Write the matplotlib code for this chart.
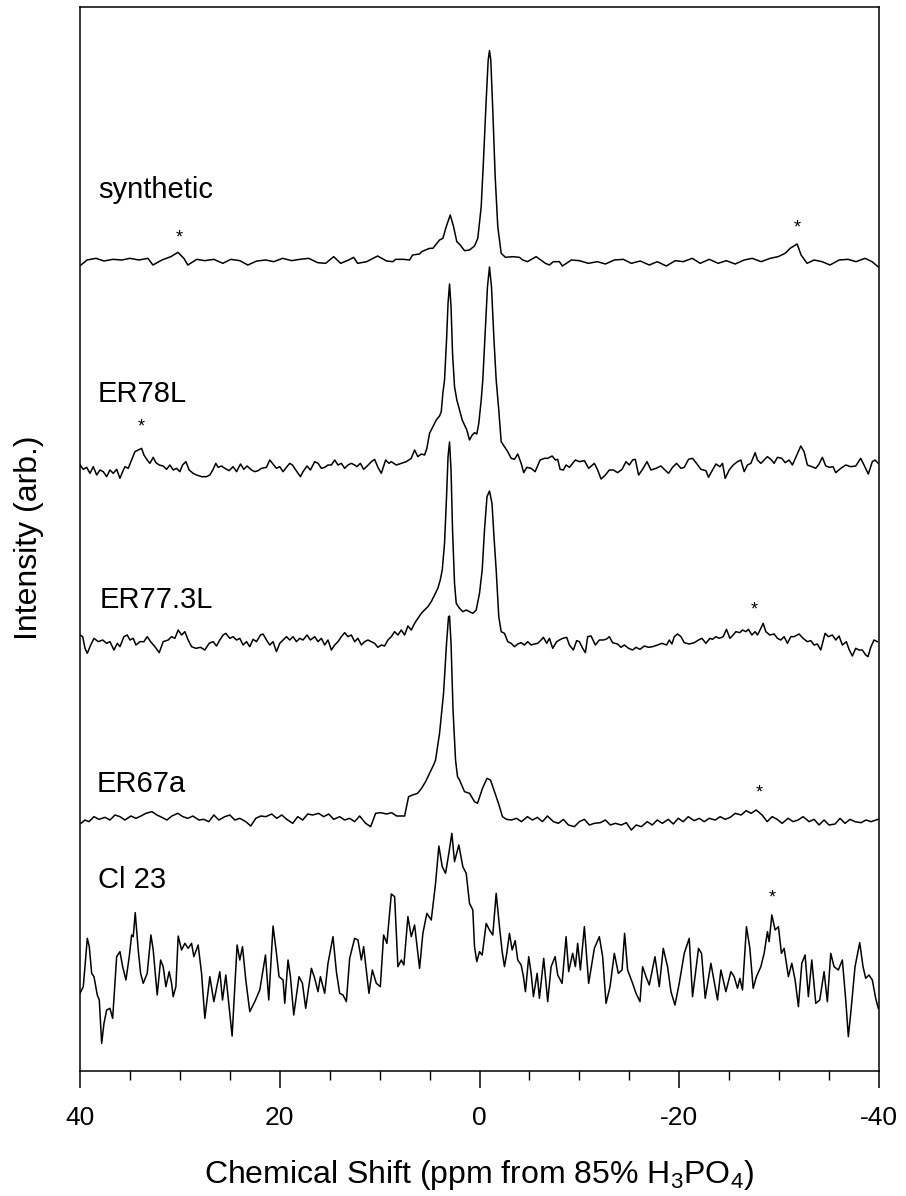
import matplotlib
matplotlib.use("Agg")
import matplotlib.pyplot as plt
from matplotlib.ticker import MultipleLocator

plt.rcParams['font.family'] = ['Liberation Sans', 'DejaVu Sans']
plt.rcParams['mathtext.fontset'] = 'custom'
plt.rcParams['mathtext.rm'] = 'Liberation Sans'
plt.rcParams['mathtext.it'] = 'Liberation Sans:italic'

# ---------------- data (ppm, intensity in arb. units) ----------------
names = ["synthetic", "ER78L", "ER77.3L", "ER67a", "Cl 23"]

syn_ppm = [39.9, 39.3, 38.4, 37.6, 36.7, 35.8, 35.0, 34.1, 33.2, 32.7, 31.8, 30.9, 30.2, 29.6, 29.2, 28.3,
           27.5, 26.6, 25.7, 24.9, 24.0, 23.2, 22.3, 21.4, 20.6, 19.7, 18.8, 18.0, 17.1, 16.2, 15.4, 14.6,
           13.9, 13.1, 12.6, 12.2, 11.3, 10.2, 9.3, 8.67, 8.4, 7.6, 7.0, 6.7, 6.0, 5.8, 5.0, 4.67, 4.0,
           3.67, 3.33, 2.93, 2.6, 2.27, 1.93, 1.5, 1.0, 0.5, 0.17, -0.17, -0.4, -0.67, -0.87, -1.0, -1.13,
           -1.33, -1.57, -1.83, -2.17, -2.6, -3.33, -4.0, -4.33, -4.8, -5.67, -6.6, -7.0, -7.4, -8.0, -8.3,
           -9.2, -10.0, -10.9, -11.8, -12.6, -13.5, -14.4, -15.2, -16.1, -17.0, -17.8, -18.7, -19.6, -20.4,
           -21.3, -22.1, -23.0, -23.9, -24.7, -25.6, -26.5, -27.3, -28.2, -29.1, -29.9, -30.6, -31.1, -31.8,
           -32.2, -32.8, -33.5, -34.3, -35.1, -36.0, -36.9, -37.7, -38.6, -39.3, -39.9]
syn_int = [5, 20, 25, 17, 22, 20, 25, 20, 25, 5, 20, 30, 43, 25, 5, 22,
           18, 22, 10, 22, 18, 5, 17, 20, 15, 25, 18, 22, 25, 12, 10, 30,
           10, 20, 28, 10, 15, 32, 17, 15, 22, 22, 20, 35, 38, 45, 55, 55, 80,
           85, 120, 155, 120, 75, 65, 48, 50, 62, 85, 180, 320, 500, 620, 648, 620,
           470, 270, 120, 40, 28, 30, 28, 20, 15, 30, 10, 5, 15, 15, 2,
           20, 18, 10, 15, 8, 20, 22, 10, 17, 5, 15, 2, 18, 15,
           25, 10, 22, 10, 18, 8, 20, 25, 15, 25, 30, 40, 55, 68,
           35, 10, 20, 15, 5, 20, 22, 15, 25, 15, 0]

er78_ppm = [40.0, 39.67, 39.33, 39.0, 38.67, 38.33, 38.0, 37.67, 37.33, 37.0, 36.67, 36.33, 36.0, 35.73, 35.5,
            35.17, 34.83, 34.5, 34.17, 33.83, 33.6, 33.27, 33.0, 32.67, 32.4, 32.07, 31.67, 31.33, 31.0, 30.67,
            30.33, 30.0, 29.73, 29.4, 29.07, 28.67, 28.33, 27.83, 27.33, 27.0, 26.67, 26.4, 26.17, 25.83, 25.5,
            25.07, 24.67, 24.33, 23.93, 23.6, 23.27, 22.83, 22.5, 22.17, 21.83, 21.33, 21.0, 20.73, 20.33, 20.0,
            19.67, 19.33, 19.0, 18.73, 18.4, 17.93, 17.67, 17.27, 16.93, 16.5, 16.17, 15.83, 15.5, 15.17, 14.83,
            14.5, 14.17, 13.83, 13.5, 13.17, 12.83, 12.5, 12.27, 11.93, 11.6, 11.17, 10.83, 10.5, 10.17, 9.83,
            9.4, 9.07, 8.83, 8.33, 7.83, 7.33, 6.83, 6.5, 6.17, 5.83, 5.5, 5.27, 5.0, 4.67, 4.33, 4.0, 3.83,
            3.67, 3.5, 3.3, 3.15, 3.0, 2.85, 2.7, 2.5, 2.27, 2.0, 1.73, 1.5, 1.27, 1.0, 0.73, 0.5, 0.27, 0.07,
            -0.17, -0.33, -0.55, -0.8, -1.0, -1.2, -1.45, -1.67, -1.93, -2.17, -2.5, -2.83, -3.17, -3.5, -3.83,
            -4.17, -4.43, -4.73, -5.17, -5.57, -6.07, -6.5, -6.83, -7.27, -7.6, -7.83, -8.07, -8.4, -8.67, -9.0,
            -9.6, -10.0, -10.5, -10.93, -11.5, -11.83, -12.17, -12.6, -13.0, -13.4, -13.83, -14.27, -14.67,
            -15.0, -15.33, -15.6, -15.93, -16.33, -16.77, -17.17, -17.67, -18.17, -18.5, -18.93, -19.33, -19.73,
            -20.17, -20.5, -20.93, -21.33, -21.73, -22.17, -22.67, -22.93, -23.33, -23.67, -24.07, -24.33, -24.6,
            -25.0, -25.4, -25.83, -26.17, -26.5, -26.83, -27.17, -27.6, -27.83, -28.17, -28.5, -28.83, -29.17,
            -29.5, -29.83, -30.27, -30.6, -31.0, -31.33, -31.67, -32.17, -32.5, -32.83, -33.27, -33.67, -34.0,
            -34.33, -34.67, -35.07, -35.4, -35.67, -36.17, -36.67, -37.17, -37.67, -38.17, -38.5, -38.93, -39.33,
            -39.6, -39.93]
er78_int = [45, 32, 38, 20, 40, 15, 30, 25, 10, 30, 20, 32, 5, 25, 40,
            35, 60, 85, 90, 95, 75, 60, 50, 68, 52, 45, 42, 32, 45, 30,
            35, 25, 45, 55, 30, 20, 15, 10, 10, 15, 32, 50, 38, 42, 35,
            28, 40, 25, 48, 32, 42, 30, 25, 28, 35, 38, 60, 50, 35, 40,
            25, 38, 50, 45, 30, 10, 25, 42, 30, 55, 50, 35, 38, 45, 45,
            60, 45, 50, 35, 45, 50, 45, 40, 50, 32, 44, 55, 62, 38, 20,
            60, 50, 55, 45, 50, 55, 65, 90, 70, 78, 75, 95, 140, 160, 180, 192, 205,
            260, 300, 420, 530, 588, 520, 380, 280, 240, 210, 180, 165, 150, 120, 135, 142, 138, 170,
            240, 300, 430, 580, 639, 580, 420, 300, 210, 115, 100, 85, 65, 62, 78,
            50, 22, 38, 35, 25, 60, 65, 65, 72, 60, 62, 32, 30, 45, 38,
            60, 55, 58, 35, 50, 30, 3, 15, 30, 30, 22, 32, 55,
            45, 60, 62, 15, 32, 55, 30, 35, 42, 32, 20, 38, 50,
            35, 38, 62, 65, 50, 32, 28, 8, 30, 48, 40, 50, 5,
            30, 45, 55, 60, 25, 45, 50, 82, 60, 50, 60, 70, 62,
            50, 68, 65, 52, 60, 45, 68, 102, 85, 45, 40, 35, 48,
            68, 42, 38, 40, 22, 35, 45, 40, 42, 65, 45, 18, 55,
            60, 50]

er77_ppm = [40.0, 39.73, 39.5, 39.27, 38.93, 38.6, 38.17, 37.73, 37.33, 37.0, 36.6, 36.27, 36.0, 35.6, 35.27,
            35.0, 34.67, 34.4, 34.0, 33.6, 33.27, 32.93, 32.5, 32.07, 31.67, 31.17, 30.83, 30.5, 30.17, 29.83,
            29.5, 29.17, 28.83, 28.4, 27.93, 27.5, 27.07, 26.67, 26.33, 26.0, 25.67, 25.4, 25.0, 24.67, 24.33,
            24.0, 23.67, 23.33, 23.0, 22.67, 22.33, 21.93, 21.67, 21.33, 21.0, 20.67, 20.33, 20.0, 19.67, 19.33,
            19.0, 18.67, 18.33, 18.0, 17.67, 17.27, 16.93, 16.5, 16.17, 15.83, 15.5, 15.17, 14.83, 14.5, 14.17,
            13.83, 13.5, 13.17, 12.83, 12.5, 12.17, 11.83, 11.5, 11.17, 10.83, 10.5, 10.17, 9.83, 9.5, 9.17,
            8.83, 8.5, 8.17, 7.83, 7.5, 7.17, 6.83, 6.5, 6.17, 5.83, 5.5, 5.17, 4.83, 4.5, 4.17, 3.93, 3.73,
            3.5, 3.3, 3.15, 3.0, 2.85, 2.7, 2.5, 2.33, 2.0, 1.67, 1.33, 1.0, 0.67, 0.33, 0.0, -0.27, -0.5,
            -0.75, -1.0, -1.25, -1.45, -1.67, -1.93, -2.17, -2.5, -2.83, -3.17, -3.5, -3.83, -4.17, -4.5, -4.83,
            -5.17, -5.5, -5.83, -6.17, -6.4, -6.73, -7.0, -7.33, -7.73, -8.0, -8.33, -8.73, -9.0, -9.4, -9.73,
            -10.0, -10.33, -10.6, -10.83, -11.17, -11.6, -12.0, -12.4, -12.73, -13.0, -13.33, -13.83, -14.17,
            -14.5, -14.93, -15.33, -15.67, -16.07, -16.5, -16.93, -17.33, -17.83, -18.27, -18.73, -19.0, -19.27,
            -19.5, -19.83, -20.17, -20.5, -21.0, -21.5, -21.93, -22.27, -22.67, -23.07, -23.33, -23.67, -24.0,
            -24.4, -24.73, -25.07, -25.4, -25.67, -26.07, -26.33, -26.67, -26.93, -27.27, -27.6, -27.83, -28.17,
            -28.4, -28.67, -29.07, -29.5, -29.83, -30.17, -30.5, -30.83, -31.17, -31.5, -32.0, -32.4, -32.83,
            -33.17, -33.5, -33.83, -34.17, -34.6, -34.93, -35.33, -35.67, -36.0, -36.33, -36.73, -37.0, -37.33,
            -37.67, -38.0, -38.33, -38.67, -38.9, -39.17, -39.5, -39.83]
er77_int = [105, 100, 65, 50, 75, 95, 85, 90, 80, 85, 60, 80, 70, 100, 105,
            90, 95, 75, 85, 85, 100, 85, 70, 52, 85, 90, 100, 95, 120, 105,
            115, 90, 70, 65, 68, 60, 80, 85, 72, 90, 105, 110, 95, 100, 90,
            95, 75, 85, 70, 92, 85, 105, 108, 90, 75, 85, 55, 80, 90, 100,
            90, 100, 85, 95, 90, 105, 90, 100, 85, 95, 75, 90, 60, 75, 85,
            100, 112, 100, 105, 85, 95, 75, 85, 90, 85, 80, 68, 75, 72, 90,
            100, 115, 105, 120, 105, 132, 120, 140, 155, 170, 180, 190, 205, 225, 245, 270, 300,
            380, 520, 640, 684, 600, 420, 260, 200, 185, 175, 180, 175, 170, 180, 230, 300, 420,
            520, 537, 500, 400, 300, 160, 115, 110, 85, 80, 70, 78, 82, 75, 85,
            75, 78, 80, 90, 98, 80, 95, 65, 85, 90, 95, 98, 75, 60, 88,
            85, 65, 52, 100, 102, 75, 90, 90, 93, 100, 82, 78, 68,
            75, 65, 60, 68, 62, 72, 68, 70, 75, 80, 75, 90, 78,
            100, 108, 100, 82, 78, 82, 90, 95, 80, 95, 92, 100, 95,
            100, 122, 95, 105, 115, 112, 120, 115, 122, 105, 115, 105, 125,
            140, 115, 105, 108, 95, 90, 100, 80, 100, 100, 108, 95, 85,
            88, 75, 78, 60, 110, 100, 105, 90, 102, 75, 85, 62, 42,
            65, 60, 60, 45, 40, 68, 90, 85]

er67_ppm = [39.9, 39.5, 39.1, 38.6, 38.1, 37.5, 37.0, 36.5, 36.0, 35.5, 34.9, 34.4, 33.9, 33.4, 32.8, 32.3,
            31.8, 31.3, 30.8, 30.2, 29.7, 29.2, 28.7, 28.1, 27.6, 27.1, 26.6, 26.1, 25.5, 25.0, 24.5, 24.0,
            23.4, 22.9, 22.4, 21.9, 21.4, 20.8, 20.3, 19.8, 19.3, 18.7, 18.2, 17.7, 17.2, 16.7, 16.1, 15.6,
            15.1, 14.6, 14.0, 13.5, 13.0, 12.5, 12.0, 11.4, 10.9, 10.4, 9.9, 9.3, 8.8, 8.3, 7.5, 7.1, 6.7,
            6.2, 5.8, 5.4, 5.0, 4.6, 4.4, 4.0, 3.6, 3.3, 3.1, 3.0, 2.85, 2.65, 2.4, 2.2, 2.0, 1.5, 1.0, 0.5,
            0.2, -0.3, -0.75, -1.1, -1.5, -1.9, -2.3, -2.7, -3.2, -3.7, -4.2, -4.8, -5.3, -5.8, -6.3, -6.8,
            -7.4, -7.9, -8.4, -8.9, -9.5, -10.0, -10.5, -11.0, -11.5, -12.1, -12.6, -13.1, -13.6, -14.2,
            -14.7, -15.2, -15.7, -16.2, -16.8, -17.3, -17.8, -18.3, -18.9, -19.4, -19.9, -20.4, -20.9, -21.5,
            -22.0, -22.5, -23.0, -23.6, -24.1, -24.6, -25.1, -25.6, -26.2, -26.7, -27.2, -27.7, -28.3, -28.8,
            -29.3, -29.8, -30.3, -30.9, -31.4, -31.9, -32.4, -33.0, -33.5, -34.0, -34.5, -35.0, -35.6, -36.1,
            -36.6, -37.1, -37.6, -38.2, -38.7, -39.2, -39.9]
er67_int = [110, 120, 115, 130, 122, 128, 120, 135, 130, 120, 132, 125, 132, 140, 145, 135,
            128, 120, 132, 140, 130, 125, 132, 120, 122, 115, 135, 120, 130, 135, 120, 125,
            115, 102, 125, 132, 130, 138, 125, 135, 122, 110, 130, 120, 138, 135, 140, 130,
            138, 122, 130, 120, 125, 115, 132, 110, 100, 140, 142, 138, 142, 132, 132, 190, 195,
            200, 215, 235, 260, 285, 300, 380, 500, 650, 730, 732, 650, 450, 300, 250, 240, 205, 200, 175,
            170, 215, 245, 240, 205, 170, 130, 122, 120, 125, 115, 130, 120, 128, 115, 132,
            115, 110, 122, 105, 100, 115, 122, 105, 110, 112, 120, 105, 110, 105,
            112, 90, 105, 100, 115, 105, 120, 110, 122, 108, 125, 115, 130, 118,
            125, 115, 125, 120, 130, 122, 128, 140, 135, 148, 140, 150, 135, 115,
            130, 122, 110, 125, 115, 120, 130, 115, 122, 105, 120, 105, 108, 125,
            110, 122, 115, 112, 120, 115, 122]

cl23_ppm = [40.0, 39.67, 39.27, 39.07, 38.83, 38.6, 38.27, 38.07, 37.83, 37.6, 37.33, 37.0, 36.73, 36.33, 36.0,
            35.73, 35.4, 35.07, 34.83, 34.67, 34.47, 34.17, 33.93, 33.67, 33.27, 32.9, 32.67, 32.27, 31.93,
            31.67, 31.4, 31.07, 30.83, 30.67, 30.4, 30.17, 29.83, 29.5, 29.17, 28.83, 28.6, 28.17, 27.83, 27.5,
            27.0, 26.6, 26.0, 25.73, 25.4, 25.07, 24.77, 24.27, 24.0, 23.73, 23.4, 23.0, 22.5, 22.0, 21.43,
            21.1, 20.67, 20.33, 20.07, 19.67, 19.5, 19.17, 18.93, 18.6, 18.07, 17.73, 17.4, 16.83, 16.5, 16.17,
            15.93, 15.5, 15.17, 14.67, 14.33, 14.0, 13.67, 13.33, 13.0, 12.5, 12.17, 11.83, 11.6, 11.07, 10.73,
            10.33, 9.93, 9.6, 9.27, 8.83, 8.5, 8.17, 7.83, 7.57, 7.17, 6.83, 6.5, 6.0, 5.67, 5.27, 4.83, 4.4,
            4.07, 3.73, 3.4, 3.07, 2.77, 2.5, 2.07, 1.67, 1.33, 1.0, 0.67, 0.5, 0.27, 0.0, -0.27, -0.67, -1.0,
            -1.33, -1.67, -2.0, -2.27, -2.5, -2.73, -3.0, -3.27, -3.57, -3.83, -4.17, -4.4, -4.6, -4.93, -5.17,
            -5.4, -5.77, -6.0, -6.43, -6.83, -7.17, -7.57, -7.83, -8.27, -8.67, -8.93, -9.33, -9.6, -9.83,
            -10.1, -10.5, -10.93, -11.5, -12.0, -12.33, -12.67, -13.07, -13.5, -13.9, -14.27, -14.53, -14.83,
            -15.33, -15.67, -16.07, -16.33, -16.67, -17.0, -17.57, -18.0, -18.4, -18.83, -19.17, -19.57, -20.0,
            -20.5, -21.0, -21.33, -21.93, -22.23, -22.6, -23.17, -23.83, -24.17, -24.67, -25.17, -25.5, -25.83,
            -26.07, -26.33, -26.73, -27.07, -27.4, -27.73, -28.17, -28.5, -28.83, -29.0, -29.27, -29.6, -29.93,
            -30.23, -30.5, -30.93, -31.27, -31.6, -31.93, -32.27, -32.6, -32.93, -33.27, -33.67, -34.07, -34.5,
            -34.83, -35.17, -35.5, -35.93, -36.33, -36.67, -36.93, -37.17, -37.6, -38.07, -38.4, -38.67, -39.0,
            -39.33, -39.67, -39.93]
cl23_int = [180, 200, 345, 320, 240, 230, 175, 160, 30, 90, 130, 135, 105, 290, 305,
            260, 220, 290, 355, 350, 422, 310, 240, 210, 240, 355, 310, 175, 280,
            260, 200, 245, 210, 170, 200, 352, 310, 330, 315, 330, 290, 325, 240, 105,
            230, 155, 245, 160, 235, 140, 52, 325, 280, 320, 220, 125, 155, 190, 295,
            160, 382, 300, 230, 220, 150, 280, 230, 115, 230, 210, 135, 255, 225, 185,
            230, 180, 270, 350, 245, 180, 175, 155, 285, 345, 340, 280, 320, 180, 250,
            210, 200, 355, 330, 478, 470, 260, 280, 265, 410, 350, 385, 255, 360, 420, 400, 510,
            622, 560, 540, 600, 660, 575, 625, 560, 540, 450, 430, 320, 275, 305, 295, 390, 370,
            355, 480, 380, 305, 260, 300, 360, 310, 338, 280, 265, 230, 185, 290, 240,
            170, 240, 165, 285, 155, 260, 290, 235, 210, 350, 245, 300, 260, 330,
            250, 380, 210, 315, 350, 290, 150, 200, 300, 240, 250, 360, 250,
            210, 180, 155, 260, 230, 205, 290, 200, 315, 260, 185, 145, 210,
            300, 345, 170, 315, 300, 165, 270, 160, 250, 185, 245, 230, 195,
            225, 190, 380, 315, 195, 230, 260, 300, 365, 335, 415, 370, 380,
            300, 315, 230, 270, 220, 140, 270, 295, 170, 280, 150, 160, 245,
            155, 300, 260, 250, 280, 160, 50, 120, 260, 332, 260, 225, 235,
            220, 165, 135]

# vertical stacking offsets of the traces (arb. units)
offsets = [2413, 1773, 1203, 633, 53]

# label anchor (ppm, height) and spinning-sideband markers (ppm, height)
label_ppm = [38.2, 38.2, 38.0, 38.3, 38.2]
label_y = [2643, 2031, 1413, 861, 573]
star_ppm = [30.1, -31.8, 33.9, -27.5, -28.0, -29.3]
star_y = [2499, 2529, 1932, 1383, 834, 519]

spectra = [(syn_ppm, syn_int), (er78_ppm, er78_int), (er77_ppm, er77_int),
           (er67_ppm, er67_int), (cl23_ppm, cl23_int)]

# ---------------- figure ----------------
fig = plt.figure(figsize=(9.06, 11.96), dpi=100)
ax = fig.add_axes([80/906, 1 - 1071/1196, 799/906, 1064/1196])

for (xp, yi), off in zip(spectra, offsets):
    ax.plot(xp, [v + off for v in yi], color='black', lw=1.1)

for name, lx, ly in zip(names, label_ppm, label_y):
    ax.text(lx, ly, name, fontsize=21, ha='left', va='center')

for sx, sy in zip(star_ppm, star_y):
    ax.text(sx, sy, '*', fontsize=13, ha='center', va='center')

ax.set_xlim(40, -40)
ax.set_ylim(0, 3192)
ax.set_yticks([])
ax.xaxis.set_major_locator(MultipleLocator(20))
ax.xaxis.set_minor_locator(MultipleLocator(5))
ax.tick_params(axis='x', which='major', direction='out', length=12, width=1.1,
               labelsize=19, pad=13)
ax.tick_params(axis='x', which='minor', direction='out', length=6.5, width=1.0)
for sp in ax.spines.values():
    sp.set_linewidth(1.1)

ax.set_xticks([40, 20, 0, -20, -40])
ax.set_xticklabels(['40', '20', '0', '-20', '-40'])

fig.text(479.5/906, 1 - 1183/1196, r'Chemical Shift (ppm from 85% H$_3$PO$_4$)',
         fontsize=23, ha='center', va='baseline')
fig.text(29/906, 1 - 538/1196, 'Intensity (arb.)', fontsize=23, rotation=90,
         ha='center', va='center')

fig.savefig('out.png', dpi=100)
